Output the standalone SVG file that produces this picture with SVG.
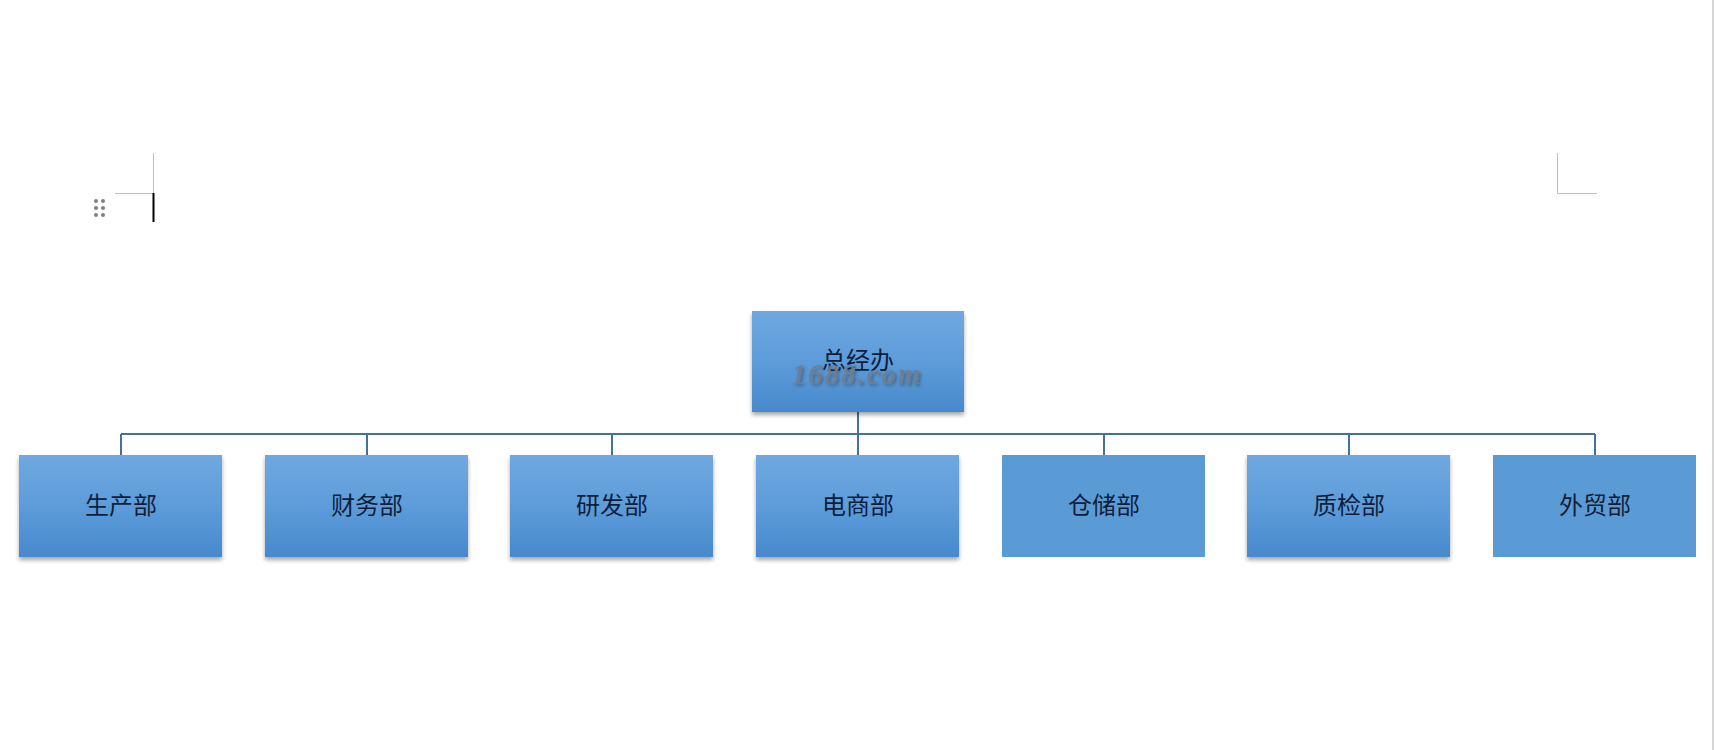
<svg xmlns="http://www.w3.org/2000/svg" width="1714" height="750" viewBox="0 0 1714 750">
<style>
.g{fill:url(#grad);filter:url(#sh)}
.f{fill:#5B9BD5}
.t{font-family:"Liberation Serif","Noto Sans CJK SC",serif;font-size:24px;fill:#0E1E3A;text-anchor:middle;dominant-baseline:central}
.c{stroke:#41719C;stroke-width:2;fill:none}
.m{stroke:#BFBFBF;stroke-width:1;fill:none}
</style>
<defs>
<linearGradient id="grad" x1="0" y1="0" x2="0" y2="1">
<stop offset="0" stop-color="#6FA8E0"/>
<stop offset="0.5" stop-color="#5D9CDA"/>
<stop offset="1" stop-color="#4789CC"/>
</linearGradient>
<filter id="sh" x="-10%" y="-10%" width="120%" height="130%">
<feDropShadow dx="0" dy="3" stdDeviation="2" flood-color="#000" flood-opacity="0.35"/>
</filter>
<filter id="wm" x="-10%" y="-30%" width="120%" height="160%">
<feDropShadow dx="2" dy="2" stdDeviation="1.5" flood-color="#333" flood-opacity="0.5"/>
</filter>
</defs>
<rect width="1714" height="750" fill="#FFFFFF"/>
<g id="page-marks">
<path class="m" d="M153.5 153V193.5H115"/>
<path class="m" d="M1557.5 153V193.5H1597"/>
<line x1="1713" y1="0" x2="1713" y2="750" stroke="#C8C8C8" stroke-width="1.5"/>
<line x1="153.5" y1="193" x2="153.5" y2="222" stroke="#000" stroke-width="2"/>
<g fill="#808080">
<circle cx="96" cy="201" r="2"/><circle cx="103" cy="201" r="2"/>
<circle cx="96" cy="208" r="2"/><circle cx="103" cy="208" r="2"/>
<circle cx="96" cy="215" r="2"/><circle cx="103" cy="215" r="2"/>
</g>
</g>
<g id="connectors">
<path class="c" d="M858 412V434M121 434H1595M121 434V455M367 434V455M612 434V455M858 434V455M1104 434V455M1349 434V455M1595 434V455"/>
</g>
<g id="n0"><rect class="g" x="752" y="311" width="212" height="101"/><text class="t" x="858" y="361">总经办</text></g>
<g id="n1"><rect class="g" x="19" y="455" width="203" height="102"/><text class="t" x="121" y="506">生产部</text></g>
<g id="n2"><rect class="g" x="265" y="455" width="203" height="102"/><text class="t" x="367" y="506">财务部</text></g>
<g id="n3"><rect class="g" x="510" y="455" width="203" height="102"/><text class="t" x="612" y="506">研发部</text></g>
<g id="n4"><rect class="g" x="756" y="455" width="203" height="102"/><text class="t" x="858" y="506">电商部</text></g>
<g id="n5"><rect class="f" x="1002" y="455" width="203" height="102"/><text class="t" x="1104" y="506">仓储部</text></g>
<g id="n6"><rect class="g" x="1247" y="455" width="203" height="102"/><text class="t" x="1349" y="506">质检部</text></g>
<g id="n7"><rect class="f" x="1493" y="455" width="203" height="102"/><text class="t" x="1595" y="506">外贸部</text></g>
<g id="watermark"><text x="857" y="384" font-family="Liberation Serif,serif" font-size="29" font-style="italic" font-weight="bold" fill="#6E7E90" fill-opacity="0.85" text-anchor="middle" letter-spacing="2" filter="url(#wm)">1688.com</text></g>
</svg>
